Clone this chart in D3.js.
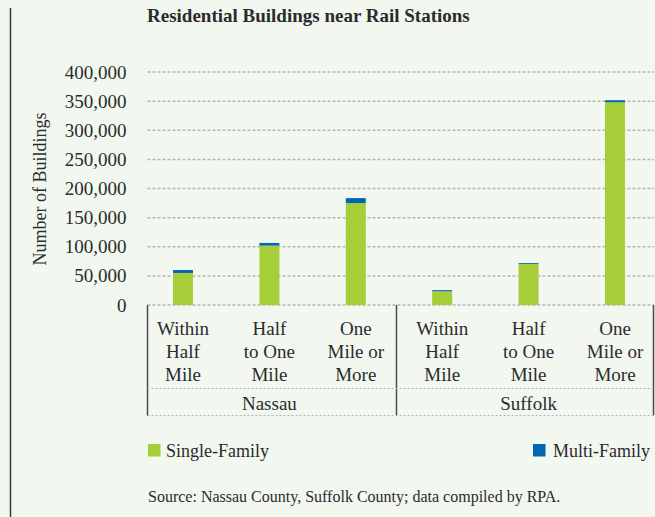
<!DOCTYPE html>
<html>
<head>
<meta charset="utf-8">
<script src="https://cdn.jsdelivr.net/npm/d3@7"></script>
<style>
  html, body { margin: 0; padding: 0; background: #f2f7f0; }
  svg { display: block; }
  text { font-family: "Liberation Serif", "DejaVu Serif", serif; fill: #2b2b2b; }
</style>
</head>
<body>
<svg id="chart" width="655" height="517"></svg>
<script>
// Building counts by distance band and county
const categories = ["Within Half Mile", "Half to One Mile", "One Mile or More",
                    "Within Half Mile", "Half to One Mile", "One Mile or More"];
const categoryLines = [["Within", "Half", "Mile"], ["Half", "to One", "Mile"], ["One", "Mile or", "More"],
                       ["Within", "Half", "Mile"], ["Half", "to One", "Mile"], ["One", "Mile or", "More"]];
const counties = ["Nassau", "Suffolk"];
const countyOf = [0, 0, 0, 1, 1, 1];
const singleFamily = [55000, 102000, 175000, 23500, 70500, 348000];
const multiFamily = [5000, 4500, 8500, 2000, 1500, 3500];
const yTicks = [0, 50000, 100000, 150000, 200000, 250000, 300000, 350000, 400000];
const seriesNames = ["Single-Family", "Multi-Family"];
const seriesColors = ["#a6ce39", "#0066b3"];

const svg = d3.select("#chart");

const plotLeft = 147.5, plotRight = 654, yTop = 72, yBottom = 305;
const ids = categories.map((c, i) => i);

const x = d3.scaleBand()
  .domain(ids)
  .range([139.8, 658.2])
  .paddingInner(0.7685)
  .paddingOuter(0.7685 / 2);

const y = d3.scaleLinear().domain([0, 400000]).range([yBottom, yTop]);

// frame line on the left edge
svg.append("line")
  .attr("x1", 10.5).attr("x2", 10.5).attr("y1", 8).attr("y2", 517)
  .attr("stroke", "#3a3a3a").attr("stroke-width", 1.5);

// title
svg.append("text")
  .attr("x", 147).attr("y", 22)
  .attr("font-size", 19).attr("font-weight", "bold")
  .attr("fill", "#222")
  .text("Residential Buildings near Rail Stations");

// dotted gridlines
svg.append("g").selectAll("line")
  .data(yTicks)
  .join("line")
  .attr("x1", plotLeft).attr("x2", plotRight)
  .attr("y1", d => y(d)).attr("y2", d => y(d))
  .attr("stroke", "#b4b6b2").attr("stroke-width", 1.5)
  .attr("stroke-dasharray", "3,2");

// y axis labels
const yAxis = svg.append("g")
  .attr("transform", `translate(${plotLeft},0)`)
  .call(d3.axisLeft(y).tickValues(yTicks).tickFormat(d3.format(",")).tickSize(0).tickPadding(21));
yAxis.select(".domain").remove();
yAxis.attr("font-family", null);
yAxis.selectAll("text")
  .attr("font-size", 19).attr("fill", "#2b2b2b");

// y axis title
svg.append("text")
  .attr("transform", "translate(46,189) rotate(-90)")
  .attr("text-anchor", "middle")
  .attr("font-size", 18)
  .text("Number of Buildings");

// stacked bars
const stacked = ids.map(i => ({ i, s: singleFamily[i], m: multiFamily[i] }));
const bars = svg.append("g");
bars.selectAll("rect.single")
  .data(stacked)
  .join("rect")
  .attr("class", "single")
  .attr("x", d => x(d.i)).attr("width", x.bandwidth())
  .attr("y", d => y(d.s)).attr("height", d => y(0) - y(d.s))
  .attr("fill", seriesColors[0]);
bars.selectAll("rect.multi")
  .data(stacked)
  .join("rect")
  .attr("class", "multi")
  .attr("x", d => x(d.i)).attr("width", x.bandwidth())
  .attr("y", d => y(d.s + d.m)).attr("height", d => y(d.s) - y(d.s + d.m))
  .attr("fill", seriesColors[1]);

// category axis: box lines and labels
const boxBottom = 415.5, groupDivider = 388.5;
const midGroups = (x(2) + x(3) + x.bandwidth()) / 2;
const separators = [plotLeft, midGroups - 2.5, plotRight - 0.5];
svg.append("g").selectAll("line")
  .data(separators)
  .join("line")
  .attr("x1", d => d).attr("x2", d => d)
  .attr("y1", yBottom).attr("y2", boxBottom)
  .attr("stroke", "#4a4a4a").attr("stroke-width", 1.5);

svg.append("g").selectAll("line")
  .data([groupDivider, boxBottom])
  .join("line")
  .attr("x1", plotLeft).attr("x2", plotRight)
  .attr("y1", d => d).attr("y2", d => d)
  .attr("stroke", "#b4b6b2").attr("stroke-width", 1.2)
  .attr("stroke-dasharray", "2,2");

const catLabels = svg.append("g");
ids.forEach(i => {
  const cx = x(i) + x.bandwidth() / 2;
  categoryLines[i].forEach((line, k) => {
    catLabels.append("text")
      .attr("x", cx).attr("y", 335 + k * 23)
      .attr("text-anchor", "middle")
      .attr("font-size", 19)
      .text(line);
  });
});

// county labels centred under the middle band of each group
counties.forEach((c, g) => {
  const members = ids.filter(i => countyOf[i] === g);
  const mid = members[Math.floor(members.length / 2)];
  svg.append("text")
    .attr("x", x(mid) + x.bandwidth() / 2).attr("y", 410)
    .attr("text-anchor", "middle")
    .attr("font-size", 19)
    .text(c);
});

// legend
const legendPos = [{ x: 148, tx: 166 }, { x: 533, tx: 553 }];
seriesNames.forEach((name, k) => {
  svg.append("rect")
    .attr("x", legendPos[k].x).attr("y", 444)
    .attr("width", 12.5).attr("height", 12.5)
    .attr("fill", seriesColors[k]);
  svg.append("text")
    .attr("x", legendPos[k].tx).attr("y", 457)
    .attr("font-size", 18)
    .text(name);
});

// source note
svg.append("text")
  .attr("x", 148).attr("y", 502)
  .attr("font-size", 16)
  .text("Source: Nassau County, Suffolk County; data compiled by RPA.");
</script>
</body>
</html>
